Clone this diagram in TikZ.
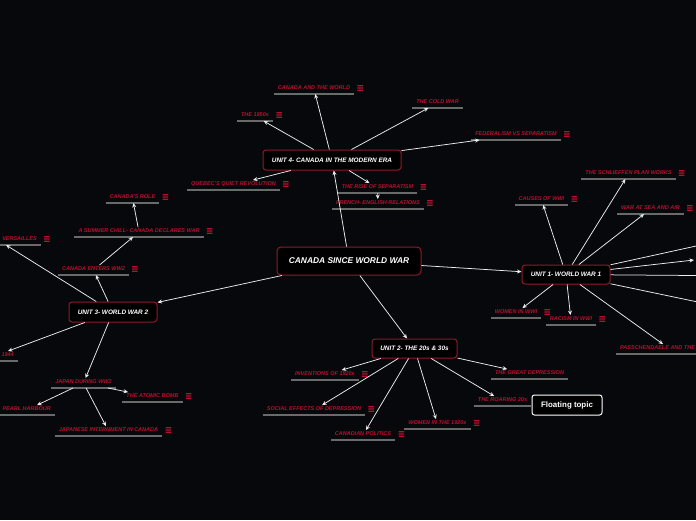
\documentclass[tikz,border=0pt]{standalone}
\usepackage{fontspec}
\setmainfont{Liberation Sans}
\usetikzlibrary{arrows.meta,calc}
\definecolor{bgc}{HTML}{07080B}
\definecolor{tred}{HTML}{B8102E}
\definecolor{bred}{HTML}{8E1A2C}
\definecolor{ugray}{HTML}{6A6A6A}
\definecolor{lwhite}{HTML}{EDEDED}
\begin{document}
\begin{tikzpicture}[x=1pt,y=-1pt,
  topic/.style={font=\bfseries\itshape\fontsize{5.5}{6}\selectfont, text=tred, inner xsep=4pt, inner ysep=1.5pt, text height=4pt, text depth=2.5pt, anchor=south},
  icon/.style={anchor=west, minimum width=5.5pt, minimum height=6pt, inner sep=0pt,
    path picture={\fill[tred]
      (path picture bounding box.north west) ++(0,-0.2pt) rectangle ++(5.5pt,-1.2pt)
      (path picture bounding box.west) ++(0,0.6pt) rectangle ++(5.5pt,-1.2pt)
      (path picture bounding box.south west) ++(0,1.4pt) rectangle ++(5.5pt,-1.2pt);}},
  uline/.style={draw=ugray, line width=1.1pt},
  unit/.style={draw=bred, line width=1pt, rounded corners=3pt, fill=black, text=white, font=\bfseries\itshape\fontsize{6.4}{7}\selectfont, inner sep=0pt},
  floatbox/.style={draw=white, line width=1pt, rounded corners=2.5pt, fill=black, text=white, font=\bfseries\fontsize{7.9}{9}\selectfont, inner sep=0pt},
  conn/.style={draw=lwhite, line width=0.75pt, -{Stealth[length=4.5pt,width=4pt]}}]
\useasboundingbox (0,0) rectangle (696,520);
\fill[bgc] (0,0) rectangle (696,520);
\clip (0,0) rectangle (696,520);

% central and unit nodes
\node[unit, minimum width=144pt, minimum height=28pt, rounded corners=4pt, font=\bfseries\itshape\fontsize{8.4}{10}\selectfont] (main) at (349,261) {CANADA SINCE WORLD WAR};
\node[unit, minimum width=138pt, minimum height=20pt] (u4) at (332,160) {UNIT 4- CANADA IN THE MODERN ERA};
\node[unit, minimum width=88pt, minimum height=19pt] (u1) at (566,274.5) {UNIT 1- WORLD WAR 1};
\node[unit, minimum width=88pt, minimum height=20pt] (u3) at (113,312) {UNIT 3- WORLD WAR 2};
\node[unit, minimum width=85pt, minimum height=19pt] (u2) at (414.5,348.5) {UNIT 2- THE 20s \& 30s};
\node[floatbox, minimum width=70pt, minimum height=20pt] (float) at (567,405) {Floating topic};

% unit 4 topics
\node[topic] (cw) at (314,94) {CANADA AND THE WORLD};
\node[topic] (t50) at (255,121) {THE 1950s};
\node[topic] (cold) at (437.5,108) {THE COLD WAR};
\node[topic] (fed) at (516,140) {FEDERALISM VS SEPARATISM};
\node[topic] (qqr) at (233.5,190) {QUEBEC'S QUIET REVOLUTION};
\node[topic] (rise) at (377.5,193) {THE RISE OF SEPARATISM};
\node[topic] (fe) at (378,209) {FRENCH- ENGLISH RELATIONS};
% unit 1 topics
\node[topic] (causes) at (541.5,205) {CAUSES OF WWI};
\node[topic] (schl) at (628.5,179) {THE SCHLIEFFEN PLAN WORKS};
\node[topic] (wsa) at (650.5,214) {WAR AT SEA AND AIR};
\node[topic] (women1) at (516,318) {WOMEN IN WWI};
\node[topic] (racism) at (571,325) {RACISM IN WWI};
\node[topic, anchor=south west] (pass) at (616,354) {PASSCHENDAELE AND THE};
% unit 3 topics
\node[topic] (enters) at (93.5,275) {CANADA ENTERS WW2};
\node[topic] (summer) at (139,237) {A SUMMER CHILL- CANADA DECLARES WAR};
\node[topic] (role) at (132.5,203) {CANADA'S ROLE};
\node[topic, anchor=south east] (vers) at (41,245) {VERSAILLES};
\node[topic, anchor=south east] (y1944) at (18,361) {1944};
\node[topic] (japan) at (83.5,388) {JAPAN DURING WW2};
\node[topic] (atomic) at (152.5,402) {THE ATOMIC BOMB};
\node[topic, anchor=south east] (pearl) at (55,415) {PEARL HARBOUR};
\node[topic] (intern) at (108.5,436) {JAPANESE INTERNMENT IN CANADA};
% unit 2 topics
\node[topic] (inv) at (325,380) {INVENTIONS OF 1920s};
\node[topic] (social) at (314,415) {SOCIAL EFFECTS OF DEPRESSION};
\node[topic] (canpol) at (363,440) {CANADIAN POLITICS};
\node[topic] (women20) at (437.5,429) {WOMEN IN THE 1920s};
\node[topic] (roar) at (502.5,406) {THE ROARING 20s};
\node[topic] (great) at (529.5,379) {THE GREAT DEPRESSION};

% underlines
\foreach \n in {cw,t50,cold,fed,qqr,rise,fe,causes,schl,wsa,women1,racism,pass,enters,summer,role,japan,atomic,intern,inv,social,canpol,women20,roar,great}
  \draw[uline] (\n.south west) -- (\n.south east);
\draw[uline] (0,245) -- (vers.south east);
\draw[uline] (0,361) -- (y1944.south east);
\draw[uline] (0,415) -- (pearl.south east);

% menu icons
\foreach \n in {cw,t50,fed,qqr,rise,fe,causes,schl,wsa,women1,racism,enters,summer,role,vers,atomic,intern,inv,social,canpol,women20}
  \node[icon] (\n-i) at ([xshift=3pt,yshift=6pt]\n.south east) {};

% off-canvas targets of unit 1
\coordinate (r1) at (760,232);
\coordinate (r2) at (694,260);
\coordinate (r3) at (760,276);
\coordinate (r4) at (760,315);

% connectors
\draw[conn] (main) -- (u4);
\draw[conn] (main) -- (u1);
\draw[conn] (main) -- (u3);
\draw[conn] (main) -- (u2);

\draw[conn] (u4) -- (cw);
\draw[conn] (u4) -- (t50);
\draw[conn] (u4) -- (cold);
\draw[conn] (u4) -- (fed);
\draw[conn] (u4) -- (qqr);
\draw[conn] (u4) -- (rise);
\draw[conn] (rise) -- (fe);

\draw[conn] (u1) -- (causes);
\draw[conn] (u1) -- (schl);
\draw[conn] (u1) -- (wsa);
\draw[conn] (u1) -- (r1);
\draw[conn] (u1) -- (r2);
\draw[conn] (u1) -- (r3);
\draw[conn] (u1) -- (r4);
\draw[conn] (u1) -- (women1);
\draw[conn] (u1) -- (racism);
\draw[conn] (u1) -- ([xshift=47pt]pass.north west);

\draw[conn] (u3) -- (enters);
\draw[conn] (enters) -- (summer);
\draw[conn] (summer) -- (role);
\draw[conn] (u3) -- ([xshift=-35pt]vers.south east);
\draw[conn] (u3) -- ([xshift=-10pt]y1944.north east);
\draw[conn] (u3) -- (japan);
\draw[conn] (japan) -- (atomic);
\draw[conn] (japan) -- (pearl);
\draw[conn] (japan) -- (intern);

\draw[conn] (u2) -- (inv);
\draw[conn] (u2) -- (social);
\draw[conn] (u2) -- (canpol);
\draw[conn] (u2) -- (women20);
\draw[conn] (u2) -- (roar);
\draw[conn] (u2) -- (great);
\end{tikzpicture}
\end{document}
